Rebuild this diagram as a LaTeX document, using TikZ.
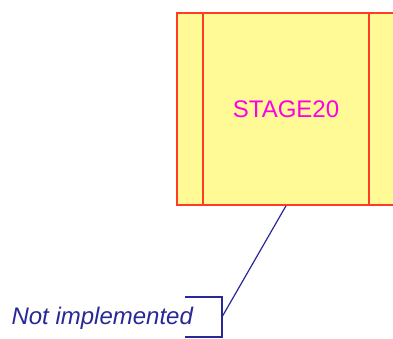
\documentclass[tikz,border=0pt]{standalone}
\usepackage{fontspec}
\setmainfont{Liberation Sans}
\usepackage{tikz}
\definecolor{stagefill}{RGB}{255,250,150}
\definecolor{stagered}{RGB}{255,60,40}
\definecolor{stagetext}{RGB}{255,0,230}
\definecolor{notenavy}{RGB}{40,40,150}
\tikzset{
  cellbox/.style={draw=stagered, fill=stagefill, line width=1.6pt, inner sep=0pt},
  noteline/.style={draw=notenavy, line width=1.2pt}
}

\begin{document}
\begin{tikzpicture}[x=1pt, y=1pt]
            \clip (0,0) rectangle (393,338);

            % Left and right side cells
            \node[cellbox, minimum width=26pt, minimum height=192pt] (leftcell) at (190,229) {};
            \node[cellbox, minimum width=60pt, minimum height=192pt] (rightcell) at (399,229) {};

            % Stage cell
            \node[cellbox, minimum width=166pt, minimum height=192pt,
                  text=stagetext, font=\fontsize{24}{28}\selectfont] (stage) at (286,229) {STAGE20};

            % Note text
            \node[text=notenavy, font=\fontsize{24}{28}\selectfont\itshape, anchor=west] (note) at (8,20) {Not implemented};

            % Bracket
            \coordinate (brtop) at (222,41);
            \coordinate (brmid) at (222,21);
            \coordinate (brbot) at (222,1);
            \draw[noteline] (185,41) -- (brtop) -- (brbot) -- (185,1);

            % Leader
            \draw[noteline] (brmid) -- (stage.south);
        \end{tikzpicture}
\end{document}
